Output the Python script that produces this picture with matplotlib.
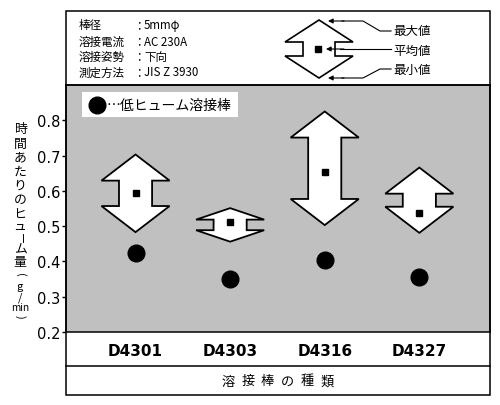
import numpy as np
import matplotlib
matplotlib.use('Agg')
import matplotlib.pyplot as plt
from matplotlib.patches import Polygon, Rectangle

plt.rcParams['font.family'] = ['DejaVu Sans', 'Noto Sans CJK JP']
JP = ['Noto Sans CJK JP', 'DejaVu Sans']

# データ
categories = ['D4301', 'D4303', 'D4316', 'D4327']
max_vals = [0.703, 0.551, 0.825, 0.666]
mean_vals = [0.595, 0.511, 0.654, 0.536]
min_vals = [0.483, 0.456, 0.503, 0.481]
low_fume = [0.423, 0.349, 0.405, 0.356]
yticks = [0.2, 0.3, 0.4, 0.5, 0.6, 0.7, 0.8]
ylabel_parts = ['時', '間', 'あ', 'た', 'り', 'の', 'ヒ', 'ュ', 'ー', 'ム', '量', '(', 'g', '/', 'min', ')']
cond_labels = ['棒径', '溶接電流', '溶接姿勢', '測定方法']
cond_values = ['5mmφ', 'AC 230A', '下向', 'JIS Z 3930']
key_labels = ['最大値', '平均値', '最小値']
dot_label = '…低ヒューム溶接棒'
xlabel = '溶接棒の種類'

W, H = 500, 406
fig = plt.figure(figsize=(5, 4.06), dpi=100)
fig.patch.set_facecolor('white')


def fx(px):
    return px / W


def fy(py):
    return 1 - py / H


def arrow_shape(xc, top, bot, hw, sw, head):
    # 上下両矢印の形 (最大値〜最小値)
    mt = top - head
    mb = bot + head
    return [(xc, top), (xc + hw, mt), (xc + sw, mt), (xc + sw, mb), (xc + hw, mb),
            (xc, bot), (xc - hw, mb), (xc - sw, mb), (xc - sw, mt), (xc - hw, mt)]


# メインの軸
ax = fig.add_axes([fx(66), fy(333), fx(490) - fx(66), fy(86) - fy(333)])
ax.set_facecolor('#c0c0c0')
ax.set_xlim(0.265, 4.747)
ax.set_ylim(0.2, 0.9)
for s in ax.spines.values():
    s.set_linewidth(1.1)

x = np.arange(1, len(categories) + 1)
for xi, hi, lo in zip(x, max_vals, min_vals):
    head = min(0.074, (hi - lo - 0.03) / 2)
    poly = Polygon(arrow_shape(xi, hi, lo, 0.36, 0.175, head), closed=True,
                   facecolor='white', edgecolor='black', lw=1.3, joinstyle='miter', zorder=3)
    ax.add_patch(poly)
ax.plot(x, mean_vals, 's', color='black', ms=4.5, zorder=4, ls='none')
ax.plot(x, low_fume, 'o', color='black', ms=12, zorder=4, ls='none')

ax.set_yticks(yticks)
ax.set_yticklabels(['%.1f' % v for v in yticks], fontsize=10.5)
ax.tick_params(axis='y', direction='out', length=3, width=1, pad=1)
ax.set_xticks(x)
ax.set_xticklabels(categories, fontsize=11, fontweight='bold')
ax.tick_params(axis='x', length=0, pad=8)

# 枠・凡例などは画素座標のオーバーレイで描く
ov = fig.add_axes([0, 0, 1, 1])
ov.set_xlim(0, W)
ov.set_ylim(H, 0)
ov.axis('off')
ov.patch.set_alpha(0)

ov.add_patch(Rectangle((66, 12), 424, 384, fill=False, ec='black', lw=1.1))
ov.plot([66, 490], [86, 86], color='black', lw=1.1)
ov.plot([66, 490], [367, 367], color='black', lw=1.1)

# 測定条件
cond_y = [26, 42, 57, 73]
for lab, val, yy in zip(cond_labels, cond_values, cond_y):
    ov.text(79, yy, lab, family=JP, fontsize=8.3, va='center', ha='left')
    ov.text(139, yy, '：', family=JP, fontsize=8.3, va='center', ha='center')
    ov.text(144, yy, val, family=JP, fontsize=8.3, va='center', ha='left')

# 凡例アイコン
ov.add_patch(Polygon(arrow_shape(319, 21, 79, 34, 16, -22), closed=True,
                     facecolor='white', edgecolor='black', lw=1.2, joinstyle='miter'))
ov.plot(318, 50, 's', color='black', ms=5)
key_y = [32, 51, 70]
for lab, yy in zip(key_labels, key_y):
    ov.text(393, yy, lab, family=JP, fontsize=9, va='center', ha='left')
ov.plot([391, 380, 363, 342], [32, 32, 22, 22], color='black', lw=0.8)
ov.plot([391, 340], [50, 50], color='black', lw=0.8)
ov.plot([391, 380, 363, 342], [70, 70, 79, 79], color='black', lw=0.8)
for ty in [22, 50, 79]:
    tip = 328 if ty != 50 else 326
    ov.annotate('', xy=(tip, ty), xytext=(344, ty),
                arrowprops=dict(arrowstyle='-|>', color='black', lw=0.8,
                                mutation_scale=7, shrinkA=0, shrinkB=0))

# 低ヒューム溶接棒の凡例
ov.add_patch(Rectangle((82, 93), 156, 25, fc='white', ec='none'))
ov.plot(97, 106, 'o', color='black', ms=12)
ov.text(107, 106, dot_label, family=JP, fontsize=10, va='center', ha='left')

# 縦書きの軸ラベル
ylab_y = [130, 144, 158, 172, 186, 200, 214, 227, 238.5, 250, 263, 275, 287, 298, 308, 317]
for ch, yy in zip(ylabel_parts, ylab_y):
    rot = 0
    size = 9.3
    if ch in ['ー', '(', ')']:
        rot = -90
        size = 8
    if ch in ['g', '/']:
        size = 8
    if ch == 'min':
        size = 7.3
    ov.text(20, yy, ch, family=JP, fontsize=size, rotation=rot,
            va='center', ha='center', rotation_mode='anchor')

# 横軸タイトル (字間を空ける)
xl_x = np.linspace(228, 327, len(xlabel))
for ch, xx in zip(xlabel, xl_x):
    ov.text(xx, 382, ch, family=JP, fontsize=9.5, va='center', ha='center')

fig.savefig('out.png', dpi=100)
